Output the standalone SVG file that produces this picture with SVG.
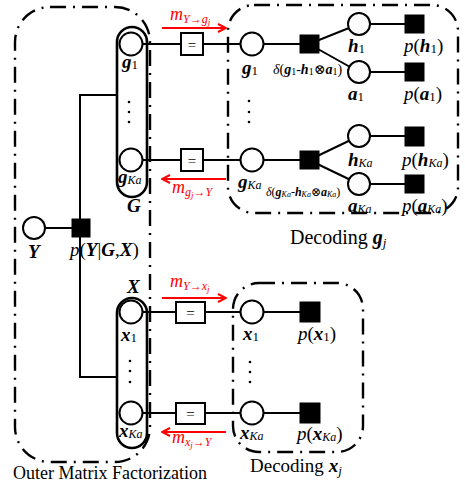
<svg xmlns="http://www.w3.org/2000/svg" width="465" height="486" viewBox="0 0 465 486" font-family="'Liberation Serif', 'Times New Roman', 'DejaVu Serif', serif">
<defs>
<style>
text{font-family:'Liberation Serif','Times New Roman','DejaVu Serif',serif}
.t{fill:#000}
.bv{font-weight:bold;font-style:italic}
.sb{font-weight:normal;font-style:normal;font-size:13px}
.si{font-weight:normal;font-style:italic;font-size:12px}
.box{fill:none;stroke:#000;stroke-width:2.4;stroke-dasharray:16 7 2 7}
.ln{stroke:#000;stroke-width:2;fill:none}
.cir{fill:#fff;stroke:#000;stroke-width:2}
.fac{fill:#000;stroke:#000;stroke-width:1}
.eq{fill:#fff;stroke:#000;stroke-width:2}
.cap{fill:none;stroke:#000;stroke-width:2.6}
.red{stroke:#ff0000;stroke-width:2;fill:none}
.rt{fill:#ff0000;font-style:italic}
</style>
<marker id="ah" viewBox="0 0 10 10" refX="9" refY="5" markerWidth="10" markerHeight="10" markerUnits="userSpaceOnUse" orient="auto">
<path d="M1,1 L9,5 L1,9" fill="none" stroke="#ff0000" stroke-width="2"/>
</marker>
</defs>

<!-- region boxes -->
<g id="regions">
<rect class="box" x="15" y="7" width="135" height="455" rx="35" ry="35"/>
<rect class="box" x="228" y="5" width="230" height="208" rx="26" ry="26"/>
<rect class="box" x="233" y="283" width="130" height="169" rx="26" ry="26"/>
</g>

<!-- connectors -->
<g id="connectors">
<line class="ln" x1="34" y1="228" x2="81" y2="228"/>
<polyline class="ln" points="117,95 80,95 80,377 117,377"/>
<line class="ln" x1="131" y1="44" x2="252" y2="44"/>
<line class="ln" x1="131" y1="160" x2="252" y2="160"/>
<line class="ln" x1="131" y1="312" x2="310" y2="312"/>
<line class="ln" x1="131" y1="413" x2="310" y2="413"/>
<line class="ln" x1="252" y1="44" x2="309" y2="44"/>
<line class="ln" x1="252" y1="160" x2="309" y2="160"/>
<line class="ln" x1="309" y1="44" x2="359" y2="24"/>
<line class="ln" x1="309" y1="44" x2="359" y2="72"/>
<line class="ln" x1="359" y1="24" x2="414" y2="24"/>
<line class="ln" x1="359" y1="72" x2="414" y2="72"/>
<line class="ln" x1="309" y1="160" x2="359" y2="136"/>
<line class="ln" x1="309" y1="160" x2="359" y2="184"/>
<line class="ln" x1="359" y1="136" x2="414" y2="136"/>
<line class="ln" x1="359" y1="184" x2="414" y2="184"/>
<line class="red" x1="162" y1="28" x2="226" y2="28" marker-end="url(#ah)"/>
<line class="red" x1="226" y1="179" x2="162" y2="179" marker-end="url(#ah)"/>
<line class="red" x1="162" y1="298" x2="226" y2="298" marker-end="url(#ah)"/>
<line class="red" x1="226" y1="432" x2="162" y2="432" marker-end="url(#ah)"/>
</g>

<!-- message labels -->
<g id="messages">
<text class="rt" x="170" y="20" font-size="18">m<tspan font-size="12" dy="3">Y→g</tspan><tspan font-size="9" dy="2">j</tspan></text>
<text class="rt" x="172" y="193" font-size="18">m<tspan font-size="12" dy="3">g</tspan><tspan font-size="9" dy="2">j</tspan><tspan font-size="12" dy="-2">→Y</tspan></text>
<text class="rt" x="170" y="287" font-size="18">m<tspan font-size="12" dy="3">Y→x</tspan><tspan font-size="9" dy="2">j</tspan></text>
<text class="rt" x="172" y="443" font-size="18">m<tspan font-size="12" dy="3">x</tspan><tspan font-size="9" dy="2">j</tspan><tspan font-size="12" dy="-2">→Y</tspan></text>
</g>

<!-- outer factorization nodes -->
<g id="node-Y">
<circle class="cir" cx="34" cy="228" r="11"/>
<text class="t bv" x="28" y="258" font-size="19">Y</text>
</g>
<g id="node-pYGX">
<rect class="fac" x="72" y="219" width="18" height="18"/>
<text class="t" x="70" y="256" font-size="19"><tspan font-style="italic">p</tspan>(<tspan class="bv">Y</tspan>|<tspan class="bv">G</tspan>,<tspan class="bv">X</tspan>)</text>
</g>
<g id="node-G">
<rect class="cap" x="117" y="27" width="30" height="170" rx="15" ry="15"/>
<circle class="cir" cx="131" cy="44" r="11.5"/>
<circle class="cir" cx="131" cy="160" r="11.5"/>
<text class="t" x="122" y="68" font-size="19"><tspan class="bv">g</tspan><tspan class="sb" dy="1">1</tspan></text>
<g fill="#000"><circle cx="129" cy="102" r="1.3"/><circle cx="129" cy="112" r="1.3"/><circle cx="129" cy="122" r="1.3"/></g>
<text class="t" x="118" y="183" font-size="19"><tspan class="bv">g</tspan><tspan class="si" dy="1">Ka</tspan></text>
<text class="t bv" x="127" y="212" font-size="19">G</text>
</g>
<g id="node-X">
<rect class="cap" x="117" y="298" width="30" height="150" rx="15" ry="15"/>
<circle class="cir" cx="131" cy="312" r="11.5"/>
<circle class="cir" cx="131" cy="413" r="11.5"/>
<text class="t bv" x="127" y="293" font-size="19">X</text>
<text class="t" x="121" y="341" font-size="19"><tspan class="bv">x</tspan><tspan class="sb" dy="1">1</tspan></text>
<g fill="#000"><circle cx="130" cy="361" r="1.3"/><circle cx="130" cy="371" r="1.3"/><circle cx="130" cy="382" r="1.3"/></g>
<text class="t" x="119" y="437" font-size="19"><tspan class="bv">x</tspan><tspan class="si" dy="1">Ka</tspan></text>
</g>

<!-- equality factors -->
<g id="node-eq-g1"><rect class="eq" x="181" y="33" width="22" height="22"/><text class="t" x="192" y="50" font-size="15" text-anchor="middle">=</text></g>
<g id="node-eq-gKa"><rect class="eq" x="181" y="149" width="22" height="22"/><text class="t" x="192" y="166" font-size="15" text-anchor="middle">=</text></g>
<g id="node-eq-x1"><rect class="eq" x="176" y="302" width="29" height="21"/><text class="t" x="190.5" y="318" font-size="15" text-anchor="middle">=</text></g>
<g id="node-eq-xKa"><rect class="eq" x="176" y="403" width="29" height="21"/><text class="t" x="190.5" y="419" font-size="15" text-anchor="middle">=</text></g>

<!-- decoding g -->
<g id="node-dg1">
<circle class="cir" cx="252" cy="44" r="11.5"/>
<text class="t" x="242" y="74" font-size="19"><tspan class="bv">g</tspan><tspan class="sb" dy="1">1</tspan></text>
</g>
<g id="node-delta1">
<rect class="fac" x="300" y="35" width="19" height="18"/>
<text class="t" x="273" y="74" font-size="14"><tspan font-style="italic">δ</tspan>(<tspan class="bv">g</tspan><tspan font-size="10" dy="1">1</tspan><tspan dy="-1">-</tspan><tspan class="bv">h</tspan><tspan font-size="10" dy="1">1</tspan><tspan dy="-1">⊗</tspan><tspan class="bv">a</tspan><tspan font-size="10" dy="1">1</tspan><tspan dy="-1">)</tspan></text>
</g>
<g id="node-h1">
<circle class="cir" cx="359" cy="24" r="11"/>
<text class="t" x="348" y="52" font-size="19"><tspan class="bv">h</tspan><tspan class="sb" dy="1">1</tspan></text>
</g>
<g id="node-a1">
<circle class="cir" cx="359" cy="72" r="11"/>
<text class="t" x="348" y="100" font-size="19"><tspan class="bv">a</tspan><tspan class="sb" dy="1">1</tspan></text>
</g>
<g id="node-ph1">
<rect class="fac" x="405" y="15" width="19" height="18"/>
<text class="t" x="404" y="52" font-size="19"><tspan font-style="italic">p</tspan>(<tspan class="bv">h</tspan><tspan class="sb" dy="1">1</tspan><tspan dy="-1">)</tspan></text>
</g>
<g id="node-pa1">
<rect class="fac" x="405" y="63" width="19" height="18"/>
<text class="t" x="404" y="100" font-size="19"><tspan font-style="italic">p</tspan>(<tspan class="bv">a</tspan><tspan class="sb" dy="1">1</tspan><tspan dy="-1">)</tspan></text>
</g>
<g fill="#000" id="dots-dg"><circle cx="249" cy="101" r="1.3"/><circle cx="249" cy="112" r="1.3"/><circle cx="249" cy="122" r="1.3"/></g>
<g id="node-dgKa">
<circle class="cir" cx="252" cy="160" r="11.5"/>
<text class="t" x="238" y="188" font-size="19"><tspan class="bv">g</tspan><tspan class="si" dy="1">Ka</tspan></text>
</g>
<g id="node-deltaKa">
<rect class="fac" x="300" y="151" width="19" height="18"/>
<text class="t" x="266" y="196" font-size="12"><tspan font-style="italic">δ</tspan>(<tspan class="bv">g</tspan><tspan font-size="8" font-style="italic" dy="1">Ka</tspan><tspan dy="-1">-</tspan><tspan class="bv">h</tspan><tspan font-size="8" font-style="italic" dy="1">Ka</tspan><tspan dy="-1">⊗</tspan><tspan class="bv">a</tspan><tspan font-size="8" font-style="italic" dy="1">Ka</tspan><tspan dy="-1">)</tspan></text>
</g>
<g id="node-hKa">
<circle class="cir" cx="359" cy="136" r="11"/>
<text class="t" x="348" y="166" font-size="19"><tspan class="bv">h</tspan><tspan class="si" dy="1">Ka</tspan></text>
</g>
<g id="node-aKa">
<circle class="cir" cx="359" cy="184" r="11"/>
<text class="t" x="348" y="212" font-size="19"><tspan class="bv">a</tspan><tspan class="si" dy="1">Ka</tspan></text>
</g>
<g id="node-phKa">
<rect class="fac" x="405" y="127" width="19" height="19"/>
<text class="t" x="402" y="166" font-size="19"><tspan font-style="italic">p</tspan>(<tspan class="bv">h</tspan><tspan class="si" dy="1">Ka</tspan><tspan dy="-1">)</tspan></text>
</g>
<g id="node-paKa">
<rect class="fac" x="405" y="175" width="19" height="18"/>
<text class="t" x="402" y="212" font-size="19"><tspan font-style="italic">p</tspan>(<tspan class="bv">a</tspan><tspan class="si" dy="1">Ka</tspan><tspan dy="-1">)</tspan></text>
</g>

<!-- decoding x -->
<g id="node-dx1">
<circle class="cir" cx="252" cy="312" r="11.5"/>
<text class="t" x="243" y="340" font-size="19"><tspan class="bv">x</tspan><tspan class="sb" dy="1">1</tspan></text>
</g>
<g id="node-px1">
<rect class="fac" x="300" y="302" width="20" height="20"/>
<text class="t" x="298" y="340" font-size="19"><tspan font-style="italic">p</tspan>(<tspan class="bv">x</tspan><tspan class="sb" dy="1">1</tspan><tspan dy="-1">)</tspan></text>
</g>
<g fill="#000" id="dots-dx"><circle cx="250" cy="362" r="1.3"/><circle cx="250" cy="372" r="1.3"/><circle cx="250" cy="382" r="1.3"/></g>
<g id="node-dxKa">
<circle class="cir" cx="252" cy="413" r="11.5"/>
<text class="t" x="240" y="439" font-size="19"><tspan class="bv">x</tspan><tspan class="si" dy="1">Ka</tspan></text>
</g>
<g id="node-pxKa">
<rect class="fac" x="300" y="403" width="20" height="20"/>
<text class="t" x="297" y="440" font-size="19"><tspan font-style="italic">p</tspan>(<tspan class="bv">x</tspan><tspan class="si" dy="1">Ka</tspan><tspan dy="-1">)</tspan></text>
</g>

<!-- region titles -->
<g id="titles">
<text class="t" x="290" y="244" font-size="20">Decoding <tspan class="bv" font-style="normal">g</tspan><tspan font-size="13" font-style="italic" dy="3">j</tspan></text>
<text class="t" x="250" y="472" font-size="19">Decoding <tspan class="bv">x</tspan><tspan font-size="13" font-style="italic" dy="3">j</tspan></text>
<text class="t" x="13" y="479" font-size="18">Outer Matrix Factorization</text>
</g>
</svg>
